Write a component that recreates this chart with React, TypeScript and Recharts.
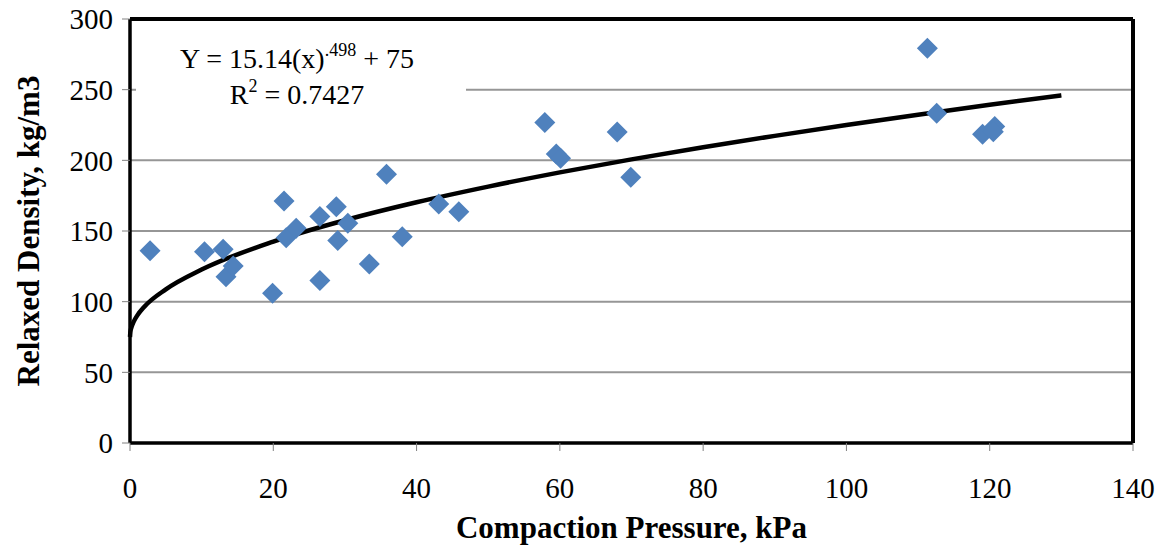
import React from 'react';
import { ComposedChart, Scatter, Line, XAxis, YAxis, CartesianGrid, ReferenceLine, Label } from 'recharts';

const pressureKpa = [2.8, 10.4, 13.0, 13.4, 14.4, 19.9, 21.5, 21.8, 23.2, 26.5, 26.5, 28.8, 29.0, 30.4, 35.8, 33.4, 38.0, 43.1, 45.9, 57.9, 59.5, 60.1, 68.0, 69.9, 111.3, 112.6, 119.0, 120.7, 120.5];
const densityKgM3 = [136, 135.4, 137, 117.7, 125.2, 106, 171.3, 145.3, 151.9, 160.2, 115, 167.2, 143.2, 155.5, 190.2, 126.7, 146, 169.1, 163.7, 226.7, 204.5, 201.5, 220.1, 188, 279.3, 233.3, 218.5, 223.9, 220.3];

// trend line as drawn
const trendPressure = [0, 0.05, 0.2, 0.5, 1, 2, 5, 10, 20, 30, 40, 50, 60, 70, 80, 90, 100, 110, 120, 130];
const trendDensity = [75, 78.4, 81.8, 85.7, 90.1, 96.4, 108.7, 122.7, 142.5, 157.6, 170.3, 181.4, 191.5, 200.7, 209.3, 217.3, 225, 232.3, 239.3, 246];

const xTicks = [0, 20, 40, 60, 80, 100, 120, 140];
const yTicks = [0, 50, 100, 150, 200, 250, 300];

const points = pressureKpa.map((x, i) => ({ x, y: densityKgM3[i] }));
const trend = trendPressure.map((x, i) => ({ x, y: trendDensity[i] }));

const serif = '"Liberation Serif", "Times New Roman", serif';
const tickStyle = { fill: '#000', fontSize: 29, fontFamily: serif };
const titleStyle = { fontFamily: serif, fontSize: 31, fontWeight: 'bold', fill: '#000' };

const Diamond = (props: any) => {
  const { cx, cy } = props;
  const r = 10.5;
  return <polygon points={`${cx},${cy - r} ${cx + r},${cy} ${cx},${cy + r} ${cx - r},${cy}`} fill="#4F81BD" />;
};

const supStyle: React.CSSProperties = { fontSize: 18, verticalAlign: 'top', position: 'relative', top: -9 };

export default function App() {
  return (
    <div style={{ position: 'absolute', left: 0, top: 0, width: 1165, height: 546, background: '#fff' }}>
      <ComposedChart width={1165} height={546} margin={{ top: 19, right: 32, bottom: 0, left: 0 }}>
        <CartesianGrid vertical={false} stroke="#969696" strokeWidth={2} />
        <XAxis
          type="number"
          dataKey="x"
          domain={[0, 140]}
          ticks={xTicks}
          height={103}
          tickSize={8}
          tickMargin={26}
          tick={tickStyle}
          tickLine={{ stroke: '#808080' }}
          axisLine={{ stroke: '#000', strokeWidth: 3.5 }}
        >
          <Label value="Compaction Pressure, kPa" position="insideBottom" offset={8} style={titleStyle} />
        </XAxis>
        <YAxis
          type="number"
          dataKey="y"
          domain={[0, 300]}
          ticks={yTicks}
          width={130}
          tickSize={8}
          tickMargin={9}
          tick={tickStyle}
          tickLine={{ stroke: '#808080' }}
          axisLine={{ stroke: '#000', strokeWidth: 3.5 }}
        >
          <Label value="Relaxed Density, kg/m3" angle={-90} position="insideLeft" offset={28}
            style={{ ...titleStyle, textAnchor: 'middle' }} />
        </YAxis>
        <ReferenceLine y={300} stroke="#000" strokeWidth={4} />
        <ReferenceLine x={140} stroke="#000" strokeWidth={4} />
        <Scatter data={points} dataKey="y" shape={Diamond} isAnimationActive={false} />
        <Line data={trend} dataKey="y" type="monotone" stroke="#000" strokeWidth={4.5} dot={false} activeDot={false} isAnimationActive={false} />
      </ComposedChart>
      <div style={{
        position: 'absolute', left: 136, top: 24, width: 330, height: 96, background: '#fff',
        fontFamily: serif, fontSize: 28, color: '#000', textAlign: 'center', lineHeight: '36px', paddingTop: 17, boxSizing: 'border-box',
      }}>
        <div style={{ paddingRight: 8 }}>Y = 15.14(x)<sup style={supStyle}>.498</sup> + 75</div>
        <div style={{ paddingRight: 8 }}>R<sup style={supStyle}>2</sup> = 0.7427</div>
      </div>
    </div>
  );
}
